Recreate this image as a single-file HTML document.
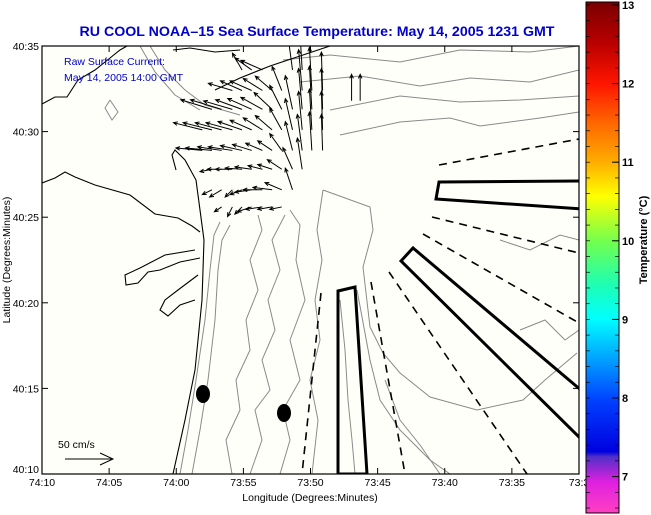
<!DOCTYPE html>
<html><head><meta charset="utf-8"><style>
html,body{margin:0;padding:0;background:#fff;}
svg{display:block;font-family:"Liberation Sans",Arial,sans-serif;}
</style></head><body>
<svg width="651" height="515" viewBox="0 0 651 515">
<defs>
<linearGradient id="cb" x1="0" y1="0" x2="0" y2="1">
<stop offset="0" stop-color="#7a0000"/>
<stop offset="0.08" stop-color="#b80000"/>
<stop offset="0.16" stop-color="#ff1500"/>
<stop offset="0.24" stop-color="#ff6a00"/>
<stop offset="0.31" stop-color="#ffaa00"/>
<stop offset="0.38" stop-color="#ffff00"/>
<stop offset="0.47" stop-color="#70ff50"/>
<stop offset="0.55" stop-color="#20ffb0"/>
<stop offset="0.62" stop-color="#00ffff"/>
<stop offset="0.70" stop-color="#00a0ff"/>
<stop offset="0.78" stop-color="#0040ff"/>
<stop offset="0.88" stop-color="#0000e0"/>
<stop offset="0.89" stop-color="#5030c8"/>
<stop offset="0.94" stop-color="#e020e0"/>
<stop offset="1" stop-color="#ff40c0"/>
</linearGradient>
<clipPath id="pc"><rect x="42" y="46" width="537" height="428"/></clipPath>
</defs>
<rect x="0" y="0" width="651" height="515" fill="#fff"/>
<rect x="42" y="46" width="537" height="428" fill="#fffffa"/>
<text x="317" y="36" text-anchor="middle" font-size="14.2" font-weight="bold" fill="#0000cc">RU COOL  NOAA–15  Sea Surface Temperature:  May 14, 2005 1231 GMT</text>

<g clip-path="url(#pc)" fill="none" stroke="#8a8a8a" stroke-width="1">
<polyline points="180,474 188,430 196,380 205,320 210,270 214,235 220,222"/>
<polyline points="192,474 200,430 208,380 215,320 218,270 222,240 230,225"/>
<polyline points="232,474 226,440 240,410 236,380 250,350 246,320 258,290 250,260 262,230 258,215"/>
<polyline points="250,474 262,440 255,410 270,390 262,360 275,330 268,300 280,270 272,240 285,215"/>
<polyline points="280,474 290,440 283,410 300,380 290,340 305,300 296,260 300,225 290,210"/>
<polyline points="323,190 370,207 373,230 363,267 370,327 383,353 400,373 430,397 477,410 523,400 545,380 577,353"/>
<polyline points="323,190 317,230 322,260 315,300 320,340 310,380 318,420 312,474"/>
<polyline points="340,300 345,350 348,400 352,440 355,474"/>
<polyline points="357,290 370,360 380,400 400,430 430,460 450,474"/>
<polyline points="385,380 400,420 420,445 440,474"/>
<polyline points="283,60 330,55 400,62 460,50 530,52 579,46"/>
<polyline points="300,82 360,76 420,86 470,78 530,82 579,70"/>
<polyline points="330,110 400,96 460,102 520,100 579,96"/>
<polyline points="340,135 400,122 450,118 480,126 540,118 579,112"/>
<polyline points="150,46 165,70 185,90 205,105 240,115"/>
<polyline points="140,46 155,72 175,95 200,110"/>
<polyline points="500,240 530,250 560,235 579,240"/>
<polyline points="520,330 545,320 565,340 579,330"/>
<polyline points="110,100 118,112 112,120 105,108 110,100"/>
</g>

<g clip-path="url(#pc)" fill="none" stroke="#000" stroke-width="1.1">
<polyline points="42,104 55,97 67,97 78,80 95,70 110,58 120,50 127,46"/>
<polyline points="173,474 185,420 195,370 202,300 204,240 200,210 196,180 185,160 175,150 172,155 176,170"/>
<polyline points="42,183 55,178 65,172 75,177 95,185 130,195 155,214 178,218 192,226 200,232"/>
<polyline points="200,258 180,262 160,270 148,272 138,283 126,285 125,275 140,268 165,255 195,250"/>
<polyline points="198,275 178,290 165,300 160,310 168,316 180,305 195,300"/>
<polyline points="215,90 240,78 270,66 300,56 330,46"/>
<polyline points="173,50 190,48 215,52 240,50"/>
</g>

<g fill="#000">
<ellipse cx="203" cy="394" rx="7" ry="9"/>
<ellipse cx="284" cy="413" rx="7" ry="9"/>
</g>

<g clip-path="url(#pc)" fill="none" stroke="#000">
<polygon points="338,474 338,291 355,287 367,474" stroke-width="3"/>
<polygon points="439,182 582,181 582,209 436,199" stroke-width="3"/>
<polygon points="401,261 413,248 582,391 582,440" stroke-width="3"/>
<g stroke-width="1.6" stroke-dasharray="8,6">
<line x1="439" y1="165" x2="579" y2="139"/>
<line x1="432" y1="217" x2="579" y2="253"/>
<line x1="423" y1="234" x2="579" y2="323"/>
<line x1="389" y1="272" x2="527" y2="474"/>
<line x1="371" y1="282" x2="405" y2="474"/>
<line x1="321" y1="293" x2="302" y2="474"/>
</g>
</g>

<g id="arrows" clip-path="url(#pc)"></g>

<text x="64" y="65" font-size="10.5" fill="#0000cc">Raw Surface Current:</text>
<text x="64" y="81" font-size="10.5" fill="#0000cc">May 14, 2005 14:00 GMT</text>
<text x="58" y="448" font-size="10.5" fill="#000">50 cm/s</text>
<g stroke="#000" stroke-width="1" fill="none">
<line x1="65" y1="459" x2="113" y2="459"/><polyline points="100,453 113,459 100,465"/>
</g>

<rect x="42" y="46" width="537" height="428" fill="none" stroke="#000" stroke-width="1.2"/>
<g id="axes"></g>
<text x="310" y="501" text-anchor="middle" font-size="10.5">Longitude (Degrees:Minutes)</text>
<text transform="translate(10,260) rotate(-90)" text-anchor="middle" font-size="10.5">Latitude (Degrees:Minutes)</text>

<rect x="586" y="2" width="33" height="511" fill="url(#cb)" stroke="#000" stroke-width="1"/>
<g id="cbax"></g>
<text transform="translate(647,240) rotate(-90)" text-anchor="middle" font-size="11" font-weight="bold">Temperature (°C)</text>
</svg>
<script>
// axes: longitude minutes west of 73:00, latitude minutes north of 40:00
const xTickMin = [70,65,60,55,50,45,40,35,30];
const xTickLabels = ["74:10","74:05","74:00","73:55","73:50","73:45","73:40","73:35","73:3"];
const yTickMin = [35,30,25,20,15,10];
const yTickLabels = ["40:35","40:30","40:25","40:20","40:15","40:10"];
const cbTicks = [13,12,11,10,9,8,7];
// current vectors: position (minutes), velocity (cm/s)
const arrLon = [55.1,54.38,53.58,51.34,50.62,
 55.82,55.1,54.38,53.58,52.86,52.14,50.62,49.9,49.1,46.94,46.3,
 57.34,56.62,55.82,55.1,54.38,53.58,52.86,52.14,51.34,50.62,49.9,49.1,
 58.06,57.34,56.62,55.82,55.1,54.38,53.58,52.86,52.14,51.34,50.62,49.9,49.1,
 58.06,57.34,56.62,55.82,55.1,54.38,53.58,52.86,52.14,51.34,50.62,49.9,49.1,
 57.34,56.62,55.82,55.1,54.38,53.58,52.86,52.14,51.34,50.62,
 57.34,56.62,55.82,55.1,54.38,53.58,52.86,52.14,51.34,
 56.62,55.82,55.1,54.38,53.58,52.86,52.14];
const arrLat = [33.6,33.6,33.6,33.6,33.6,
 32.4,32.4,32.4,32.4,32.4,32.4,32.4,32.4,32.4,31.8,31.8,
 31.3,31.3,31.3,31.3,31.3,31.3,31.3,31.3,31.3,31.3,31.3,31.3,
 30.1,30.1,30.1,30.1,30.1,30.1,30.1,30.1,30.1,30.1,30.1,30.1,30.1,
 28.9,28.9,28.9,28.9,28.9,28.9,28.9,28.9,28.9,28.9,28.9,28.9,28.9,
 27.8,27.8,27.8,27.8,27.8,27.8,27.8,27.8,27.8,27.8,
 26.6,26.6,26.6,26.6,26.6,26.6,26.6,26.6,26.6,
 25.6,25.6,25.6,25.6,25.6,25.6,25.6];
const arrU = [-8,-14,-18,-4,-2,
 -20,-18,-18,-16,-14,-8,-3,-2,-1,0,0,
 -26,-26,-24,-22,-20,-18,-15,-10,-6,-3,-2,-1,
 -24,-24,-22,-22,-20,-18,-16,-14,-10,-6,-3,-2,-1,
 -22,-22,-20,-20,-18,-16,-14,-12,-10,-6,-4,-2,-1,
 -10,-12,-14,-14,-14,-12,-12,-12,-8,-4,
 -8,-10,-6,-10,-14,-16,-16,-14,-6,
 -6,-4,-6,-12,-14,-12,-10];
const arrV = [14,10,8,30,34,
 6,8,8,10,12,20,34,36,32,22,22,
 8,8,7,8,9,10,14,20,28,34,36,34,
 6,6,6,6,7,8,10,12,18,26,32,34,32,
 2,2,3,3,4,5,6,8,14,24,30,32,30,
 -2,0,0,1,2,3,4,8,18,26,
 -4,-6,-6,-4,-2,0,2,6,18,
 -4,-8,-6,-4,-2,-2,-2];

const NS = "http://www.w3.org/2000/svg";
function xLon(m){ return 42 + (70 - m) * 537 / 40; }
function yLat(m){ return 474 - (m - 10) * 428 / 25; }
function yCb(t){ return 5 + (13 - t) * 78.6; }
const velScale = 1.2;

const ax = document.getElementById('axes');
xTickMin.forEach((m,i)=>{
  const x = xLon(m);
  const t1 = document.createElementNS(NS,'line');
  t1.setAttribute('x1',x);t1.setAttribute('x2',x);t1.setAttribute('y1',474);t1.setAttribute('y2',468);t1.setAttribute('stroke','#000');
  
  
  ax.appendChild(t1);
  const t2 = document.createElementNS(NS,'line');
  t2.setAttribute('x1',x);t2.setAttribute('x2',x);t2.setAttribute('y1',46);t2.setAttribute('y2',52);t2.setAttribute('stroke','#000');
  
  
  ax.appendChild(t2);
  const lb = document.createElementNS(NS,'text');
  lb.setAttribute('x',x);lb.setAttribute('y',486);lb.setAttribute('text-anchor','middle');lb.setAttribute('font-size','10.5');
  lb.textContent = xTickLabels[i];
  
  
  ax.appendChild(lb);
});
yTickMin.forEach((m,i)=>{
  const y = yLat(m);
  const t1 = document.createElementNS(NS,'line');
  t1.setAttribute('x1',42);t1.setAttribute('x2',48);t1.setAttribute('y1',y);t1.setAttribute('y2',y);t1.setAttribute('stroke','#000');
  
  
  ax.appendChild(t1);
  const t2 = document.createElementNS(NS,'line');
  t2.setAttribute('x1',573);t2.setAttribute('x2',579);t2.setAttribute('y1',y);t2.setAttribute('y2',y);t2.setAttribute('stroke','#000');
  
  
  ax.appendChild(t2);
  const lb = document.createElementNS(NS,'text');
  lb.setAttribute('x',39);lb.setAttribute('y',y+ (i===yTickMin.length-1 ? -1 : 4));lb.setAttribute('text-anchor','end');lb.setAttribute('font-size','10.5');
  lb.textContent = yTickLabels[i];
  
  
  ax.appendChild(lb);
});

const cb = document.getElementById('cbax');
for(let k=0;k<=40;k++){
  const y = 5 + k*15.72;
  if(y>513) break;
  [[586,590],[615,619]].forEach(p=>{
    const l = document.createElementNS(NS,'line');
    l.setAttribute('x1',p[0]);l.setAttribute('x2',p[1]);l.setAttribute('y1',y);l.setAttribute('y2',y);l.setAttribute('stroke','#000');l.setAttribute('stroke-width','0.7');
    
    
    cb.appendChild(l);
  });
}
cbTicks.forEach(t=>{
  const y = yCb(t);
  const l = document.createElementNS(NS,'line');
  l.setAttribute('x1',612);l.setAttribute('x2',619);l.setAttribute('y1',y);l.setAttribute('y2',y);l.setAttribute('stroke','#000');
  
  
  cb.appendChild(l);
  const lb = document.createElementNS(NS,'text');
  lb.setAttribute('x',622);lb.setAttribute('y',Math.max(y+4,9));lb.setAttribute('font-size','11');lb.setAttribute('font-weight','bold');
  lb.textContent = String(t);
  
  
  cb.appendChild(lb);
});

const ag = document.getElementById('arrows');
for(let i=0;i<arrLon.length;i++){
  const x0 = xLon(arrLon[i]), y0 = yLat(arrLat[i]);
  const dx = arrU[i]*velScale, dy = -arrV[i]*velScale;
  const x1 = x0+dx, y1 = y0+dy;
  const len = Math.hypot(dx,dy)||1;
  const ux = dx/len, uy = dy/len, h = 4;
  const p = document.createElementNS(NS,'path');
  const ax1 = x1 - h*ux + h*0.45*uy, ay1 = y1 - h*uy - h*0.45*ux;
  const ax2 = x1 - h*ux - h*0.45*uy, ay2 = y1 - h*uy + h*0.45*ux;
  p.setAttribute('d',`M${x0},${y0}L${x1},${y1}M${ax1},${ay1}L${x1},${y1}L${ax2},${ay2}`);
  p.setAttribute('stroke','#000');p.setAttribute('fill','none');p.setAttribute('stroke-width','1');
  
  
  ag.appendChild(p);
}
</script>
</body></html>
